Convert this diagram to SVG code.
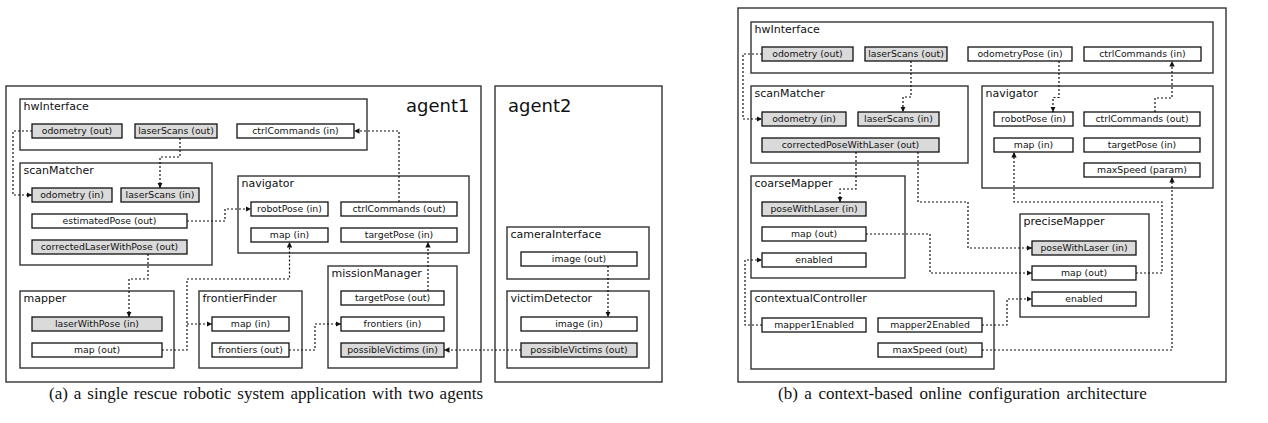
<svg xmlns="http://www.w3.org/2000/svg" width="1268" height="423" viewBox="0 0 1268 423">
<style>
.o{fill:#fff;stroke:#333;stroke-width:1.4}
.c{fill:#fff;stroke:#333;stroke-width:1.4}
.p{fill:#fff;stroke:#111;stroke-width:1.3}
.g{fill:#dadada}
.lb{font-family:"DejaVu Sans",sans-serif;font-size:11px;fill:#111}
.ag{font-family:"DejaVu Sans",sans-serif;font-size:18px;fill:#111}
.pt{font-family:"DejaVu Sans",sans-serif;font-size:9.3px;fill:#111;text-anchor:middle}
.cap{font-family:"Liberation Serif",serif;font-size:17px;fill:#111}
.e{fill:none;stroke:#111;stroke-width:1.2;stroke-dasharray:2 2;marker-end:url(#ah)}
</style>
<defs>
<marker id="ah" markerWidth="6" markerHeight="6" refX="5.5" refY="3" orient="auto" markerUnits="userSpaceOnUse">
<path d="M0,0.3 L5.5,3 L0,5.7 z" fill="#111"/>
</marker>
</defs>
<rect width="1268" height="423" fill="#fff"/>

<!-- (a) -->
<g id="agent1"><rect class="o" x="6" y="86" width="475" height="296"/><text class="ag" x="406" y="112">agent1</text></g>
<g id="agent2"><rect class="o" x="495" y="86" width="167" height="296"/><text class="ag" x="508" y="112">agent2</text></g>

<g id="a-hwInterface">
<rect class="c" x="20" y="99" width="347" height="51"/><text class="lb" x="23.5" y="109.5">hwInterface</text>
<rect class="p g" x="32" y="124" width="90" height="14"/><text class="pt" x="77" y="134.3">odometry (out)</text>
<rect class="p g" x="135" y="124" width="82" height="14"/><text class="pt" x="176" y="134.3">laserScans (out)</text>
<rect class="p" x="237" y="124" width="117" height="14"/><text class="pt" x="295.5" y="134.3">ctrlCommands (in)</text>
</g>
<g id="a-scanMatcher">
<rect class="c" x="20" y="163" width="192" height="102"/><text class="lb" x="23.5" y="173.5">scanMatcher</text>
<rect class="p g" x="32" y="188" width="80" height="14"/><text class="pt" x="72" y="198.3">odometry (in)</text>
<rect class="p g" x="121" y="188" width="78" height="14"/><text class="pt" x="160" y="198.3">laserScans (in)</text>
<rect class="p" x="32" y="214" width="155" height="14"/><text class="pt" x="109.5" y="224.3">estimatedPose (out)</text>
<rect class="p g" x="32" y="240" width="155" height="14"/><text class="pt" x="109.5" y="250.3">correctedLaserWithPose (out)</text>
</g>
<g id="a-navigator">
<rect class="c" x="238" y="176" width="231" height="77"/><text class="lb" x="241.5" y="186.5">navigator</text>
<rect class="p" x="251" y="202" width="77" height="14"/><text class="pt" x="289.5" y="212.3">robotPose (in)</text>
<rect class="p" x="341" y="202" width="116" height="14"/><text class="pt" x="399" y="212.3">ctrlCommands (out)</text>
<rect class="p" x="251" y="228" width="77" height="14"/><text class="pt" x="289.5" y="238.3">map (in)</text>
<rect class="p" x="341" y="228" width="116" height="14"/><text class="pt" x="399" y="238.3">targetPose (in)</text>
</g>
<g id="a-mapper">
<rect class="c" x="20" y="291" width="154" height="77"/><text class="lb" x="23.5" y="301.5">mapper</text>
<rect class="p g" x="32" y="317" width="130" height="14"/><text class="pt" x="97" y="327.3">laserWithPose (in)</text>
<rect class="p" x="32" y="343" width="130" height="14"/><text class="pt" x="97" y="353.3">map (out)</text>
</g>
<g id="a-frontierFinder">
<rect class="c" x="199" y="291" width="103" height="77"/><text class="lb" x="202.5" y="301.5">frontierFinder</text>
<rect class="p" x="212" y="317" width="77" height="14"/><text class="pt" x="250.5" y="327.3">map (in)</text>
<rect class="p" x="212" y="343" width="77" height="14"/><text class="pt" x="250.5" y="353.3">frontiers (out)</text>
</g>
<g id="a-missionManager">
<rect class="c" x="328" y="266" width="129" height="102"/><text class="lb" x="331.5" y="276.5">missionManager</text>
<rect class="p" x="341" y="291" width="103" height="14"/><text class="pt" x="392.5" y="301.3">targetPose (out)</text>
<rect class="p" x="341" y="317" width="103" height="14"/><text class="pt" x="392.5" y="327.3">frontiers (in)</text>
<rect class="p g" x="341" y="343" width="103" height="14"/><text class="pt" x="392.5" y="353.3">possibleVictims (in)</text>
</g>
<g id="a-cameraInterface">
<rect class="c" x="507" y="227" width="142" height="52"/><text class="lb" x="510.5" y="237.5">cameraInterface</text>
<rect class="p" x="521" y="252" width="116" height="14"/><text class="pt" x="579" y="262.3">image (out)</text>
</g>
<g id="a-victimDetector">
<rect class="c" x="507" y="291" width="142" height="77"/><text class="lb" x="510.5" y="301.5">victimDetector</text>
<rect class="p" x="521" y="317" width="116" height="14"/><text class="pt" x="579" y="327.3">image (in)</text>
<rect class="p g" x="521" y="343" width="116" height="14"/><text class="pt" x="579" y="353.3">possibleVictims (out)</text>
</g>

<!-- (b) -->
<g id="system-b"><rect class="o" x="738" y="8" width="488" height="374"/></g>
<g id="b-hwInterface">
<rect class="c" x="751" y="22" width="462" height="51"/><text class="lb" x="754.5" y="32.5">hwInterface</text>
<rect class="p g" x="762" y="47" width="91" height="14"/><text class="pt" x="807.5" y="57.3">odometry (out)</text>
<rect class="p g" x="865" y="47" width="82" height="14"/><text class="pt" x="906" y="57.3">laserScans (out)</text>
<rect class="p" x="968" y="47" width="104" height="14"/><text class="pt" x="1020" y="57.3">odometryPose (in)</text>
<rect class="p" x="1084" y="47" width="117" height="14"/><text class="pt" x="1142.5" y="57.3">ctrlCommands (in)</text>
</g>
<g id="b-scanMatcher">
<rect class="c" x="751" y="86" width="217" height="77"/><text class="lb" x="754.5" y="96.5">scanMatcher</text>
<rect class="p g" x="762" y="112" width="84" height="14"/><text class="pt" x="804" y="122.3">odometry (in)</text>
<rect class="p g" x="858" y="112" width="81" height="14"/><text class="pt" x="898.5" y="122.3">laserScans (in)</text>
<rect class="p g" x="762" y="138" width="177" height="14"/><text class="pt" x="850.5" y="148.3">correctedPoseWithLaser (out)</text>
</g>
<g id="b-navigator">
<rect class="c" x="982" y="86" width="231" height="102"/><text class="lb" x="985.5" y="96.5">navigator</text>
<rect class="p" x="994" y="112" width="79" height="14"/><text class="pt" x="1033.5" y="122.3">robotPose (in)</text>
<rect class="p" x="1084" y="112" width="116" height="14"/><text class="pt" x="1142" y="122.3">ctrlCommands (out)</text>
<rect class="p" x="994" y="138" width="79" height="14"/><text class="pt" x="1033.5" y="148.3">map (in)</text>
<rect class="p" x="1084" y="138" width="116" height="14"/><text class="pt" x="1142" y="148.3">targetPose (in)</text>
<rect class="p" x="1084" y="163" width="116" height="14"/><text class="pt" x="1142" y="173.3">maxSpeed (param)</text>
</g>
<g id="b-coarseMapper">
<rect class="c" x="751" y="176" width="154" height="102"/><text class="lb" x="754.5" y="186.5">coarseMapper</text>
<rect class="p g" x="762" y="202" width="104" height="14"/><text class="pt" x="814" y="212.3">poseWithLaser (in)</text>
<rect class="p" x="762" y="227" width="104" height="14"/><text class="pt" x="814" y="237.3">map (out)</text>
<rect class="p" x="762" y="253" width="104" height="14"/><text class="pt" x="814" y="263.3">enabled</text>
</g>
<g id="b-contextualController">
<rect class="c" x="751" y="291" width="243" height="78"/><text class="lb" x="754.5" y="301.5">contextualController</text>
<rect class="p" x="762" y="318" width="104" height="14"/><text class="pt" x="814" y="328.3">mapper1Enabled</text>
<rect class="p" x="878" y="318" width="104" height="14"/><text class="pt" x="930" y="328.3">mapper2Enabled</text>
<rect class="p" x="878" y="343" width="104" height="14"/><text class="pt" x="930" y="353.3">maxSpeed (out)</text>
</g>
<g id="b-preciseMapper">
<rect class="c" x="1020" y="214" width="129" height="103"/><text class="lb" x="1023.5" y="224.5">preciseMapper</text>
<rect class="p g" x="1032" y="241" width="104" height="14"/><text class="pt" x="1084" y="251.3">poseWithLaser (in)</text>
<rect class="p" x="1032" y="266" width="104" height="14"/><text class="pt" x="1084" y="276.3">map (out)</text>
<rect class="p" x="1032" y="292" width="104" height="14"/><text class="pt" x="1084" y="302.3">enabled</text>
</g>

<g id="connectors">
<path class="e" d="M32,131 H13 V195 H32"/>
<path class="e" d="M180,138 V157 H160 V188"/>
<path class="e" d="M187,221 H225 V209 H251"/>
<path class="e" d="M148,254 V279 H129 V317"/>
<path class="e" d="M162,350 H187 V279 H289.5 V242"/>
<path class="e" d="M187,324 H212"/>
<path class="e" d="M289,350 H315 V324 H341"/>
<path class="e" d="M428,291 V242"/>
<path class="e" d="M399,202 V131 H354"/>
<path class="e" d="M521,350 H444"/>
<path class="e" d="M608,266 V317"/>

<path class="e" d="M762,54 H743 V119 H762"/>
<path class="e" d="M911,61 V97 H903 V112"/>
<path class="e" d="M1059,61 V97.5 H1053 V112"/>
<path class="e" d="M1155,112 V98 H1172 V61"/>
<path class="e" d="M856,152 V189 H840 V202"/>
<path class="e" d="M918,152 V202 H968 V248 H1032"/>
<path class="e" d="M866,234 H930 V273 H1032"/>
<path class="e" d="M1136,273 H1162 V202 H1014 V152"/>
<path class="e" d="M762,325 H745 V260 H762"/>
<path class="e" d="M982,325 H1007 V299 H1032"/>
<path class="e" d="M982,350 H1172 V177"/>
</g>

<text class="cap" x="49" y="399" word-spacing="1.7">(a) a single rescue robotic system application with two agents</text>
<text class="cap" x="778" y="399" word-spacing="2.3">(b) a context-based online configuration architecture</text>
</svg>
